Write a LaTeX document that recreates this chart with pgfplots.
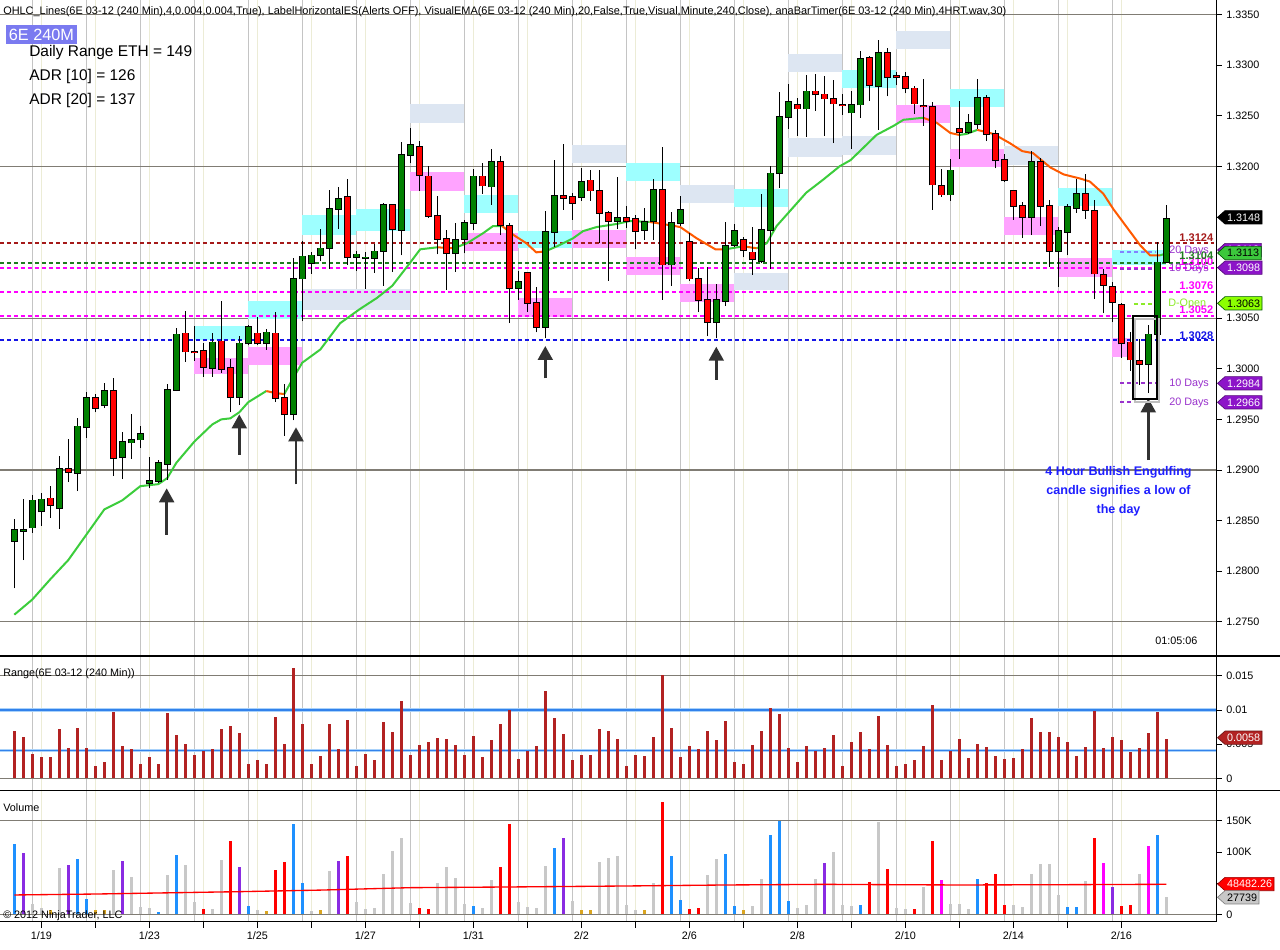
\documentclass[border=0pt]{standalone}
\usepackage{pgfplots}
\usepackage{pgfplotstable}
\pgfplotsset{compat=1.18}
\usepackage{fontspec}
\setmainfont{Liberation Sans}
\usetikzlibrary{arrows.meta}

\definecolor{gridgray}{RGB}{196,196,196}
\definecolor{gridyel}{RGB}{236,236,214}
\definecolor{hgrid}{RGB}{128,124,116}
\definecolor{candlegreen}{RGB}{0,128,0}
\definecolor{candlered}{RGB}{255,0,0}
\definecolor{zcyan}{RGB}{158,255,255}
\definecolor{zpink}{RGB}{255,163,255}
\definecolor{zsteel}{RGB}{221,230,242}
\definecolor{emagreen}{RGB}{60,205,60}
\definecolor{emaorange}{RGB}{255,90,0}
\definecolor{lnred}{RGB}{165,25,25}
\definecolor{lngreen}{RGB}{30,125,30}
\definecolor{lnmag}{RGB}{255,0,255}
\definecolor{lnblue}{RGB}{20,20,230}
\definecolor{dpurple}{RGB}{153,50,204}
\definecolor{lpurple}{RGB}{130,130,255}
\definecolor{tagpurple}{RGB}{140,20,200}
\definecolor{taggreen}{RGB}{60,200,60}
\definecolor{taglime}{RGB}{140,255,0}
\definecolor{dopen}{RGB}{140,235,40}
\definecolor{firebrick}{RGB}{178,34,34}
\definecolor{vblue}{RGB}{30,144,255}
\definecolor{vpurple}{RGB}{138,43,226}
\definecolor{vgray}{RGB}{200,200,200}
\definecolor{vorange}{RGB}{218,165,32}
\definecolor{vred}{RGB}{255,0,0}
\definecolor{vmag}{RGB}{255,0,255}
\definecolor{boxblue}{RGB}{122,122,240}
\definecolor{annblue}{RGB}{30,30,255}
\definecolor{arrowgray}{RGB}{50,50,50}
\definecolor{halo}{RGB}{170,210,250}
\definecolor{adrblue}{RGB}{50,130,235}

\newcommand{\tickfont}{\fontsize{8.1}{9.5}\selectfont}

% candle data: index, open, high, low, close
\pgfplotstableread{
i O H L C
1 1.2830 1.2852 1.2783 1.2841
2 1.2840 1.2871 1.2811 1.2841
3 1.2843 1.2875 1.2838 1.2870
4 1.2859 1.2877 1.2845 1.2871
5 1.2872 1.2884 1.2853 1.2865
6 1.2862 1.2914 1.2842 1.2901
7 1.2901 1.2931 1.2888 1.2898
8 1.2897 1.2951 1.2879 1.2943
9 1.2942 1.2977 1.2932 1.2971
10 1.2971 1.2975 1.2957 1.2961
11 1.2964 1.2986 1.2961 1.2978
12 1.2978 1.2991 1.2894 1.2912
13 1.2913 1.2938 1.2891 1.2928
14 1.2927 1.2955 1.2911 1.2930
15 1.2930 1.2943 1.2922 1.2936
16 1.2887 1.2913 1.2882 1.2889
17 1.2889 1.2910 1.2887 1.2907
18 1.2906 1.2985 1.2890 1.2979
19 1.2979 1.3040 1.2978 1.3034
20 1.3035 1.3057 1.3007 1.3017
21 1.3017 1.3042 1.3008 1.3016
22 1.3018 1.3025 1.2992 1.3002
23 1.3001 1.3035 1.2992 1.3026
24 1.3027 1.3067 1.2996 1.3000
25 1.3001 1.3010 1.2957 1.2972
26 1.2972 1.3032 1.2964 1.3025
27 1.3025 1.3043 1.3023 1.3041
28 1.3035 1.3051 1.3023 1.3025
29 1.3025 1.3039 1.3019 1.3036
30 1.3035 1.3056 1.2967 1.2971
31 1.2971 1.2985 1.2934 1.2955
32 1.2955 1.3109 1.2949 1.3089
33 1.3089 1.3126 1.3047 1.3111
34 1.3104 1.3115 1.3094 1.3112
35 1.3112 1.3138 1.3106 1.3119
36 1.3119 1.3177 1.3099 1.3158
37 1.3158 1.3180 1.3138 1.3168
38 1.3170 1.3187 1.3103 1.3110
39 1.3110 1.3116 1.3097 1.3113
40 1.3109 1.3115 1.3079 1.3110
41 1.3109 1.3123 1.3095 1.3116
42 1.3116 1.3164 1.3082 1.3162
43 1.3162 1.3163 1.3096 1.3138
44 1.3137 1.3224 1.3112 1.3211
45 1.3211 1.3238 1.3203 1.3221
46 1.3219 1.3225 1.3176 1.3191
47 1.3190 1.3200 1.3149 1.3151
48 1.3151 1.3171 1.3113 1.3128
49 1.3128 1.3137 1.3078 1.3114
50 1.3114 1.3144 1.3096 1.3127
51 1.3128 1.3147 1.3114 1.3144
52 1.3144 1.3197 1.3137 1.3190
53 1.3190 1.3203 1.3173 1.3181
54 1.3180 1.3217 1.3162 1.3204
55 1.3204 1.3210 1.3132 1.3142
56 1.3141 1.3144 1.3045 1.3080
57 1.3080 1.3097 1.3068 1.3086
58 1.3095 1.3096 1.3056 1.3065
59 1.3065 1.3081 1.3036 1.3041
60 1.3041 1.3156 1.3030 1.3135
61 1.3135 1.3206 1.3120 1.3171
62 1.3171 1.3222 1.3157 1.3169
63 1.3170 1.3174 1.3147 1.3164
64 1.3170 1.3198 1.3166 1.3185
65 1.3186 1.3196 1.3166 1.3176
66 1.3176 1.3196 1.3124 1.3154
67 1.3154 1.3156 1.3087 1.3146
68 1.3146 1.3189 1.3138 1.3149
69 1.3149 1.3161 1.3139 1.3146
70 1.3148 1.3152 1.3118 1.3136
71 1.3137 1.3159 1.3127 1.3145
72 1.3146 1.3187 1.3127 1.3177
73 1.3177 1.3219 1.3068 1.3103
74 1.3103 1.3155 1.3082 1.3144
75 1.3144 1.3171 1.3141 1.3157
76 1.3125 1.3134 1.3087 1.3089
77 1.3089 1.3100 1.3056 1.3068
78 1.3068 1.3101 1.3032 1.3046
79 1.3046 1.3084 1.3030 1.3068
80 1.3067 1.3145 1.3062 1.3121
81 1.3122 1.3143 1.3120 1.3136
82 1.3127 1.3130 1.3110 1.3117
83 1.3115 1.3140 1.3093 1.3108
84 1.3106 1.3173 1.3104 1.3137
85 1.3137 1.3200 1.3099 1.3193
86 1.3193 1.3273 1.3179 1.3249
87 1.3249 1.3281 1.3237 1.3264
88 1.3261 1.3268 1.3230 1.3257
89 1.3257 1.3290 1.3229 1.3274
90 1.3274 1.3291 1.3255 1.3271
91 1.3271 1.3289 1.3230 1.3267
92 1.3267 1.3285 1.3223 1.3262
93 1.3261 1.3271 1.3251 1.3260
94 1.3253 1.3274 1.3217 1.3261
95 1.3261 1.3314 1.3248 1.3306
96 1.3307 1.3309 1.3265 1.3280
97 1.3279 1.3325 1.3236 1.3312
98 1.3312 1.3317 1.3269 1.3288
99 1.3289 1.3293 1.3280 1.3288
100 1.3288 1.3293 1.3272 1.3277
101 1.3277 1.3279 1.3252 1.3262
102 1.3260 1.3286 1.3240 1.3259
103 1.3259 1.3264 1.3157 1.3182
104 1.3181 1.3197 1.3170 1.3172
105 1.3172 1.3207 1.3166 1.3196
106 1.3237 1.3265 1.3207 1.3234
107 1.3234 1.3252 1.3232 1.3243
108 1.3242 1.3286 1.3237 1.3268
109 1.3268 1.3270 1.3225 1.3232
110 1.3232 1.3236 1.3198 1.3206
111 1.3206 1.3212 1.3185 1.3186
112 1.3176 1.3177 1.3147 1.3161
113 1.3161 1.3165 1.3129 1.3150
114 1.3150 1.3215 1.3132 1.3204
115 1.3204 1.3208 1.3141 1.3161
116 1.3161 1.3167 1.3101 1.3116
117 1.3116 1.3140 1.3081 1.3136
118 1.3135 1.3163 1.3112 1.3160
119 1.3159 1.3187 1.3154 1.3173
120 1.3173 1.3192 1.3148 1.3157
121 1.3156 1.3167 1.3069 1.3094
122 1.3093 1.3099 1.3055 1.3083
123 1.3081 1.3086 1.3046 1.3066
124 1.3063 1.3065 1.3011 1.3025
125 1.3026 1.3036 1.2998 1.3009
126 1.3008 1.3029 1.2984 1.3005
127 1.3005 1.3043 1.2976 1.3034
128 1.3034 1.3125 1.3029 1.3105
129 1.3105 1.3162 1.3105 1.3148
}\candles

\pgfplotstableread{
i r
1 0.00692
2 0.00604
3 0.00356
4 0.00312
5 0.00312
6 0.00721
7 0.00443
8 0.00736
9 0.00443
10 0.00180
11 0.00239
12 0.00970
13 0.00473
14 0.00429
15 0.00210
16 0.00312
17 0.00210
18 0.00955
19 0.00634
20 0.00502
21 0.00341
22 0.00400
23 0.00429
24 0.00721
25 0.00765
26 0.00663
27 0.00210
28 0.00268
29 0.00210
30 0.00897
31 0.00502
32 0.01613
33 0.00794
34 0.00210
35 0.00327
36 0.00794
37 0.00429
38 0.00853
39 0.00180
40 0.00356
41 0.00268
42 0.00824
43 0.00677
44 0.01131
45 0.00341
46 0.00487
47 0.00531
48 0.00590
49 0.00575
50 0.00487
51 0.00341
52 0.00619
53 0.00312
54 0.00560
55 0.00794
56 0.00999
57 0.00283
58 0.00400
59 0.00473
60 0.01277
61 0.00882
62 0.00648
63 0.00268
64 0.00341
65 0.00341
66 0.00721
67 0.00692
68 0.00575
69 0.00180
70 0.00341
71 0.00327
72 0.00604
73 0.01506
74 0.00736
75 0.00312
76 0.00473
77 0.00429
78 0.00692
79 0.00560
80 0.00838
81 0.00239
82 0.00210
83 0.00487
84 0.00692
85 0.01028
86 0.00941
87 0.00443
88 0.00239
89 0.00473
90 0.00400
91 0.00443
92 0.00634
93 0.00180
94 0.00531
95 0.00677
96 0.00429
97 0.00911
98 0.00487
99 0.00180
100 0.00210
101 0.00268
102 0.00473
103 0.01072
104 0.00268
105 0.00400
106 0.00575
107 0.00297
108 0.00502
109 0.00458
110 0.00327
111 0.00283
112 0.00297
113 0.00429
114 0.00882
115 0.00677
116 0.00677
117 0.00604
118 0.00531
119 0.00327
120 0.00458
121 0.00984
122 0.00443
123 0.00604
124 0.00560
125 0.00385
126 0.00443
127 0.00663
128 0.00970
129 0.00580
}\ranges

% volume (thousands) by bar colour
\pgfplotstableread{
i v
1 112.7
8 88.7
9 25.1
17 3.7
19 95.1
27 13.4
32 144.8
33 50.2
52 13.4
61 106.3
74 93.5
75 23.0
80 96.7
81 13.4
85 127.1
86 150.1
87 21.4
95 15.0
108 56.6
118 11.8
119 11.8
128 127.1
}\volblue
\pgfplotstableread{
i v
2 98.3
7 79.1
13 85.5
26 75.9
37 85.5
62 122.3
91 82.3
123 43.8
}\volpurple
\pgfplotstableread{
i v
3 17.1
4 10.7
6 74.8
12 71.0
14 60.4
15 11.8
16 10.1
18 63.0
20 79.1
21 19.8
23 8.5
24 87.1
28 6.9
34 5.3
36 69.4
39 19.8
40 8.5
41 10.1
42 64.6
43 101.5
44 122.3
45 18.2
48 50.2
49 75.9
50 58.2
51 16.6
53 10.1
54 55.0
57 19.8
58 11.8
59 10.1
60 77.5
63 21.4
66 83.9
67 90.3
68 93.5
69 15.0
70 6.9
72 50.2
78 63.0
79 88.7
83 13.4
84 56.6
88 10.1
89 15.0
90 56.6
92 99.9
93 15.0
94 13.4
97 148.0
99 10.1
100 8.5
102 43.8
105 16.6
106 16.6
107 8.5
112 15.0
113 11.8
114 64.6
115 80.7
116 80.7
117 31.0
120 53.4
126 64.6
129 27.7
}\volgray
\pgfplotstableread{
i v
22 8.5
25 117.5
30 71.0
31 83.9
38 93.5
46 10.1
47 8.5
55 75.9
56 144.8
73 180.0
76 8.5
77 10.1
96 51.8
98 72.6
101 8.5
103 117.5
109 50.2
110 64.6
111 15.0
121 122.3
124 13.4
125 15.0
}\volred
\pgfplotstableread{
i v
5 6.9
10 6.9
11 6.9
29 5.3
35 6.9
64 6.9
65 6.9
71 6.9
82 6.9
}\volorange
\pgfplotstableread{
i v
104 55.0
122 82.3
127 109.5
}\volmag

\pgfplotsset{
  panel/.style={
    scale only axis, width=912.5pt, xmin=-0.589, xmax=134.6,
    axis line style={draw=none}, no markers,
    scaled y ticks=false, scaled x ticks=false,
    xtick={3,9,...,123}, xticklabels={},
    minor xtick={4,10,...,124},
    xmajorgrids=true, xminorgrids=true,
    major grid style={gridgray, line width=0.9pt},
    minor grid style={gridyel, line width=0.75pt},
    xtick style={draw=none},
    ytick pos=right, yticklabel pos=right, tick align=outside,
    ytick style={black, line width=0.6pt}, major tick length=3.75pt,
    yticklabel style={font=\tickfont, anchor=west},
  },
  cbar/.style={draw=none, mark=none, forget plot},
}

\newcommand{\zone}[5]{\addplot[fill=#1, draw=none, forget plot] coordinates {(#2,#4) (#3,#4) (#3,#5) (#2,#5)} -- cycle;}
\newcommand{\lvl}[2]{\addplot[#1, dash pattern=on 3pt off 2.25pt, line width=1.5pt, forget plot] coordinates {(-0.6,#2) (134.3,#2)};}
\newcommand{\tagbox}[5]{%
  \node[anchor=west, inner sep=1.3pt, minimum height=9.6pt, font=\tickfont] (tg) at (1225,#1) {\phantom{#4}};
  \filldraw[fill=#2, draw=#5, line width=0.5pt] (1217.5,#1) -- (tg.north west) -- (tg.north east) -- (tg.south east) -- (tg.south west) -- cycle;
  \node[text=#3, font=\tickfont, inner sep=0pt] at (tg.center) {#4};}
\newcommand{\datelab}[2]{\node[font=\tickfont, inner sep=0pt] at ({5.3+9*#1},935.5) {#2};}

\begin{document}
\begin{tikzpicture}
\fill[white] (0,0) rectangle (960pt,-711.75pt);
\path[use as bounding box] (0,0) rectangle (960pt,-711.75pt);

%================ PRICE PANEL ================
\begin{axis}[panel, at={(0pt,0pt)}, anchor=north west, height=492pt,
  ymin=1.27162, ymax=1.336433,
  ytick={1.275,1.28,1.285,1.29,1.295,1.3,1.305,1.31,1.315,1.32,1.325,1.33,1.335},
  yticklabels={1.2750,1.2800,1.2850,1.2900,1.2950,1.3000,1.3050,1.3100,1.3150,1.3200,1.3250,1.3300,1.3350}]
% horizontal grid
\addplot[hgrid, line width=0.9pt, forget plot] coordinates {(-1,1.275) (136,1.275)};
\addplot[hgrid, line width=0.9pt, forget plot] coordinates {(-1,1.29) (136,1.29)};
\addplot[hgrid, line width=0.9pt, forget plot] coordinates {(-1,1.305) (136,1.305)};
\addplot[hgrid, line width=0.9pt, forget plot] coordinates {(-1,1.32) (136,1.32)};
\addplot[hgrid, line width=0.9pt, forget plot] coordinates {(-1,1.335) (136,1.335)};
% zones
\zone{zcyan}{21}{27}{1.30422}{1.30284}
\zone{zpink}{21}{27}{1.30106}{1.29948}
\zone{zcyan}{27}{33}{1.30669}{1.30492}
\zone{zpink}{27}{33}{1.30215}{1.30037}
\zone{zsteel}{33}{45}{1.30788}{1.30580}
\zone{zcyan}{33}{39}{1.31519}{1.31321}
\zone{zcyan}{39}{45}{1.31578}{1.31361}
\zone{zsteel}{45}{51}{1.32616}{1.32428}
\zone{zpink}{45}{51}{1.31944}{1.31756}
\zone{zcyan}{51}{57}{1.31717}{1.31539}
\zone{zpink}{51}{57}{1.31341}{1.31163}
\zone{zcyan}{57}{63}{1.31361}{1.31193}
\zone{zpink}{57}{63}{1.30699}{1.30511}
\zone{zsteel}{63}{69}{1.32211}{1.32033}
\zone{zpink}{63}{69}{1.31371}{1.31193}
\zone{zcyan}{69}{75}{1.32033}{1.31855}
\zone{zpink}{69}{75}{1.31104}{1.30926}
\zone{zsteel}{75}{81}{1.31815}{1.31638}
\zone{zpink}{75}{81}{1.30837}{1.30659}
\zone{zcyan}{81}{87}{1.31776}{1.31598}
\zone{zsteel}{81}{87}{1.30946}{1.30778}
\zone{zsteel}{87}{93}{1.33110}{1.32932}
\zone{zsteel}{87}{93}{1.32280}{1.32092}
\zone{zcyan}{93}{99}{1.32952}{1.32774}
\zone{zsteel}{93}{99}{1.32300}{1.32112}
\zone{zsteel}{99}{105}{1.33337}{1.33159}
\zone{zpink}{99}{105}{1.32606}{1.32428}
\zone{zcyan}{105}{111}{1.32764}{1.32586}
\zone{zpink}{105}{111}{1.32171}{1.31993}
\zone{zsteel}{111}{117}{1.32201}{1.32013}
\zone{zpink}{111}{117}{1.31499}{1.31321}
\zone{zcyan}{117}{123}{1.31786}{1.31608}
\zone{zpink}{117}{123}{1.31094}{1.30906}
\zone{zcyan}{123}{129}{1.31173}{1.31025}
\zone{zpink}{123}{125}{1.30304}{1.30116}
% level lines
\lvl{lnred}{1.3124}
\lvl{lnmag}{1.3100}
\lvl{lngreen}{1.3104}
\lvl{lnmag}{1.3076}
\lvl{lnmag}{1.3052}
\lvl{lnblue}{1.3028}
% short level lines at right
\addplot[lpurple, dash pattern=on 3pt off 2.25pt, line width=1.5pt, forget plot] coordinates {(123.9,1.3115) (127.9,1.3115)};
\addplot[dpurple, dash pattern=on 3pt off 2.25pt, line width=1.5pt, forget plot] coordinates {(123.9,1.3099) (127.9,1.3099)};
\addplot[dopen, dash pattern=on 3pt off 2.25pt, line width=1.5pt, forget plot] coordinates {(125.4,1.3064) (127.7,1.3064)};
\addplot[dpurple, dash pattern=on 3pt off 2.25pt, line width=1.5pt, forget plot] coordinates {(123.9,1.2986) (128.2,1.2986)};
\addplot[dpurple, dash pattern=on 3pt off 2.25pt, line width=1.5pt, forget plot] coordinates {(123.9,1.2967) (128.2,1.2967)};
% EMA
\addplot[emagreen, line width=1.5pt] coordinates {(1,1.2757)(3,1.2772)(5,1.2792)(7,1.2811)(9,1.2836)(11,1.2861)(13,1.2870)(15,1.2884)(17,1.2886)(18,1.2892)(19,1.2907)(21,1.2928)(23,1.2945)(24,1.2950)(25,1.2951)(26,1.2957)(27,1.2967)(29,1.2978)};
\addplot[emaorange, line width=1.5pt] coordinates {(29,1.2978)(30,1.2976)(31,1.2975)};
\addplot[emagreen, line width=1.5pt] coordinates {(31,1.2975)(32,1.2991)(33,1.3006)(35,1.3019)(37.2,1.3045)(39.4,1.3059)(41.3,1.3070)(43,1.3082)(45,1.3105)(46.1,1.3118)(48,1.3120)};
\addplot[emaorange, line width=1.5pt] coordinates {(48,1.3120)(49.8,1.3119)};
\addplot[emagreen, line width=1.5pt] coordinates {(49.8,1.3119)(51.3,1.3124)(53.1,1.3134)(54.2,1.3141)(55.2,1.3141)};
\addplot[emaorange, line width=1.5pt] coordinates {(55.2,1.3141)(56.5,1.3132)(57.9,1.3124)(59,1.3115)(60,1.3116)};
\addplot[emagreen, line width=1.5pt] coordinates {(60,1.3116)(61.3,1.3121)(63.1,1.3129)(64.2,1.3136)(65.7,1.3140)(67.9,1.3143)(69.4,1.3146)(71.6,1.3145)};
\addplot[emaorange, line width=1.5pt] coordinates {(71.6,1.3145)(73.1,1.3143)(75,1.3140)(76.8,1.3129)(78.9,1.3118)(80,1.3118)};
\addplot[emagreen, line width=1.5pt] coordinates {(80,1.3118)(82,1.3121)};
\addplot[emaorange, line width=1.5pt] coordinates {(82,1.3121)(83.5,1.3119)};
\addplot[emagreen, line width=1.5pt] coordinates {(83.5,1.3119)(84.6,1.3124)(85.7,1.3141)(87.2,1.3156)(89,1.3174)(90.9,1.3187)(92.7,1.3200)(93.9,1.3206)(95.3,1.3218)(96.8,1.3231)(98.7,1.3240)(99.8,1.3246)(102,1.3248)};
\addplot[emaorange, line width=1.5pt] coordinates {(102,1.3248)(103.5,1.3243)(105,1.3233)(106,1.3231)};
\addplot[emagreen, line width=1.5pt] coordinates {(106,1.3231)(106.8,1.3232)(108,1.3236)};
\addplot[emaorange, line width=1.5pt] coordinates {(108,1.3236)(109.8,1.3232)(111.6,1.3223)(113,1.3215)(114.2,1.3213)(116.1,1.3199)(117.6,1.3192)(119.4,1.3188)(120.5,1.3185)(122,1.3173)(123.1,1.3158)(124.6,1.3140)(126.1,1.3122)(127.2,1.3112)(128.3,1.3112)};
\addplot[emagreen, line width=1.5pt] coordinates {(128.3,1.3112)(129,1.3114)};
% candles: wicks
\addplot[cbar, error bars/.cd, y dir=plus, y explicit, error mark=none,
  error bar style={draw=black, line width=0.75pt}]
  table[x=i, y=L, y error plus expr={\thisrow{H}-\thisrow{L}}] {\candles};
% bodies: outline
\addplot[cbar, error bars/.cd, y dir=plus, y explicit, error mark=none,
  error bar style={draw=black, line width=4.9pt}]
  table[x=i, y expr={min(\thisrow{O},\thisrow{C})-0.00008}, y error plus expr={abs(\thisrow{C}-\thisrow{O})+0.00016}] {\candles};
% bodies: up
\addplot[cbar, error bars/.cd, y dir=plus, y explicit, error mark=none,
  error bar style={draw=candlegreen, line width=3.4pt}]
  table[x=i, y=O, y error plus expr={max(\thisrow{C}-\thisrow{O},0)}] {\candles};
% bodies: down
\addplot[cbar, error bars/.cd, y dir=plus, y explicit, error mark=none,
  error bar style={draw=candlered, line width=3.4pt}]
  table[x=i, y=C, y error plus expr={max(\thisrow{O}-\thisrow{C},0)}] {\candles};
% arrows
\addplot[arrowgray, line width=2.2pt, -{Triangle[width=11pt,length=10.5pt]}] coordinates {(17.93,1.28358) (17.93,1.28819)};
\addplot[arrowgray, line width=2.2pt, -{Triangle[width=11pt,length=10.5pt]}] coordinates {(26,1.29148) (26,1.29550)};
\addplot[arrowgray, line width=2.2pt, -{Triangle[width=11pt,length=10.5pt]}] coordinates {(32.3,1.28858) (32.3,1.29422)};
\addplot[arrowgray, line width=2.2pt, -{Triangle[width=11pt,length=10.5pt]}] coordinates {(60,1.29906) (60,1.30225)};
\addplot[arrowgray, line width=2.2pt, -{Triangle[width=11pt,length=10.5pt]}] coordinates {(79,1.29889) (79,1.30218)};
\addplot[arrowgray, line width=2.2pt, -{Triangle[width=11pt,length=10.5pt]}] coordinates {(127,1.29098) (127,1.29708)};
% highlight box
\addplot[black!25, line width=1.5pt] coordinates {(125.55,1.30495)(128.2,1.30495)(128.2,1.29672)(125.55,1.29672)} -- cycle;
\addplot[black, line width=1.5pt] coordinates {(125.27,1.30524)(127.93,1.30524)(127.93,1.29701)(125.27,1.29701)} -- cycle;
\end{axis}

%================ RANGE PANEL ================
\begin{axis}[panel, at={(0pt,-492pt)}, anchor=north west, height=101.025pt,
  ymin=-0.001813, ymax=0.01788,
  ytick={0,0.005,0.01,0.015}, yticklabels={0,0.005,0.01,0.015}]
\addplot[hgrid, line width=0.9pt, forget plot] coordinates {(-1,0) (136,0)};
\addplot[hgrid, line width=0.9pt, forget plot] coordinates {(-1,0.015) (136,0.015)};
\addplot[halo, line width=2.6pt] coordinates {(-1,0.01) (136,0.01)};
\addplot[adrblue, line width=1.1pt] coordinates {(-1,0.01) (136,0.01)};
\addplot[halo, line width=2.6pt] coordinates {(-1,0.0041) (136,0.0041)};
\addplot[adrblue, line width=1.1pt] coordinates {(-1,0.0041) (136,0.0041)};
\addplot[ycomb, firebrick, line width=2.25pt, mark=none] table[x=i, y=r] {\ranges};
\end{axis}

%================ VOLUME PANEL ================
\begin{axis}[panel, at={(0pt,-593.025pt)}, anchor=north west, height=98.25pt,
  ymin=-11.86, ymax=198.08,
  ytick={0,50,100,150}, yticklabels={0,50K,100K,150K}]
\addplot[hgrid, line width=0.9pt, forget plot] coordinates {(-1,0) (136,0)};
\addplot[hgrid, line width=0.9pt, forget plot] coordinates {(-1,150) (136,150)};
\addplot[ycomb, vgray, line width=2.25pt, mark=none] table[x=i, y=v] {\volgray};
\addplot[ycomb, vblue, line width=2.25pt, mark=none] table[x=i, y=v] {\volblue};
\addplot[ycomb, vpurple, line width=2.25pt, mark=none] table[x=i, y=v] {\volpurple};
\addplot[ycomb, vred, line width=2.25pt, mark=none] table[x=i, y=v] {\volred};
\addplot[ycomb, vorange, line width=2.25pt, mark=none] table[x=i, y=v] {\volorange};
\addplot[ycomb, vmag, line width=2.25pt, mark=none] table[x=i, y=v] {\volmag};
\addplot[red, line width=1.0pt] coordinates {(1,31)(10,32.5)(15,33.7)(26,36.3)(35,38.8)(45,42.7)(56,43.8)(69,45.4)(80,47)(91,48)(106,47)(118,47.5)(129,48.1)};
\end{axis}

%================ OVERLAYS (pixel coordinates) ================
\begin{scope}[x=0.75pt, y=-0.75pt]
% frame lines
\draw[black, line width=0.9pt] (0,656) -- (1280,656);
\draw[black, line width=0.9pt] (0,790.7) -- (1280,790.7);
\draw[black, line width=0.9pt] (0,921.7) -- (1216.7,921.7);
\draw[black, line width=0.9pt] (1216.7,0) -- (1216.7,921.7);
% time axis
\foreach \k in {4,10,...,124} \draw[black, line width=0.6pt] ({5.3+9*\k},921.7) -- ({5.3+9*\k},927.5);
\datelab{4}{1/19}
\datelab{16}{1/23}
\datelab{28}{1/25}
\datelab{40}{1/27}
\datelab{52}{1/31}
\datelab{64}{2/2}
\datelab{76}{2/6}
\datelab{88}{2/8}
\datelab{100}{2/10}
\datelab{112}{2/14}
\datelab{124}{2/16}
% texts
\node[anchor=west, inner sep=0pt, font=\fontsize{8.2}{9}\selectfont] at (3,11.5) {OHLC\_Lines(6E 03-12 (240 Min),4,0.004,0.004,True), LabelHorizontalES(Alerts OFF), VisualEMA(6E 03-12 (240 Min),20,False,True,Visual,Minute,240,Close), anaBarTimer(6E 03-12 (240 Min),4HRT.wav,30)};
\node[anchor=north west, fill=boxblue, text=white, inner xsep=2pt, inner ysep=0pt, minimum height=14.25pt, font=\fontsize{12.2}{14}\selectfont] at (6,25) {6E 240M};
\node[anchor=west, inner sep=0pt, font=\fontsize{11.6}{13}\selectfont] at (29,53) {Daily Range ETH = 149};
\node[anchor=west, inner sep=0pt, font=\fontsize{11.6}{13}\selectfont] at (29,77) {ADR [10] = 126};
\node[anchor=west, inner sep=0pt, font=\fontsize{11.6}{13}\selectfont] at (29,101) {ADR [20] = 137};
\node[anchor=west, inner sep=0pt, font=\tickfont] at (1155,641) {01:05:06};
\node[align=center, inner sep=0pt, text=annblue, font=\fontsize{9.4}{14.3}\selectfont\bfseries] at (1118.5,491) {4 Hour Bullish Engulfing\\candle signifies a low of\\the day};
\node[anchor=west, inner sep=0pt, font=\tickfont] at (3,674) {Range(6E 03-12 (240 Min))};
\node[anchor=west, inner sep=0pt, font=\tickfont] at (3,808) {Volume};
\node[anchor=west, inner sep=0pt, font=\tickfont] at (3,916) {\textcopyright{} 2012 NinjaTrader, LLC};
% level labels
\node[anchor=east, inner sep=0pt, text=lnred, font=\fontsize{8.3}{9}\selectfont\bfseries] at (1213.5,237.3) {1.3124};
\node[anchor=east, inner sep=0pt, text=lnmag, font=\fontsize{8.3}{9}\selectfont\bfseries] at (1213.5,261.7) {1.3100};
\node[anchor=east, inner sep=0pt, text=lngreen, font=\fontsize{8.3}{9}\selectfont\bfseries] at (1213.5,256) {1.3104};
\node[anchor=east, inner sep=0pt, text=lnmag, font=\fontsize{8.3}{9}\selectfont\bfseries] at (1213.5,285.7) {1.3076};
\node[anchor=east, inner sep=0pt, text=lnmag, font=\fontsize{8.3}{9}\selectfont\bfseries] at (1213.5,310) {1.3052};
\node[anchor=east, inner sep=0pt, text=lnblue, font=\fontsize{8.3}{9}\selectfont\bfseries] at (1213.5,335.7) {1.3028};
\node[anchor=west, inner sep=0pt, text=dpurple, font=\tickfont] at (1169,250.7) {20 Days};
\node[anchor=west, inner sep=0pt, text=dpurple, font=\tickfont] at (1169,269.3) {10 Days};
\node[anchor=west, inner sep=0pt, text=dopen, font=\tickfont] at (1168,304) {D-Open};
\node[anchor=west, inner sep=0pt, text=dpurple, font=\tickfont] at (1169,384) {10 Days};
\node[anchor=west, inner sep=0pt, text=dpurple, font=\tickfont] at (1169,403.3) {20 Days};
% value tags
\tagbox{217.3}{black}{white}{1.3148}{black}
\tagbox{250}{tagpurple}{white}{1.3113}{tagpurple!60!black}
\tagbox{253}{taggreen}{black}{1.3113}{green!35!black}
\tagbox{267.7}{tagpurple}{white}{1.3098}{tagpurple!60!black}
\tagbox{303.3}{taglime}{black}{1.3063}{green!35!black}
\tagbox{383.3}{tagpurple}{white}{1.2984}{tagpurple!60!black}
\tagbox{402.3}{tagpurple}{white}{1.2966}{tagpurple!60!black}
\tagbox{737.7}{firebrick}{white}{0.0058}{firebrick!60!black}
\tagbox{884}{red}{white}{48482.26}{red!60!black}
\tagbox{897.3}{vgray}{black}{27739}{black!50}
\end{scope}
\end{tikzpicture}
\end{document}
